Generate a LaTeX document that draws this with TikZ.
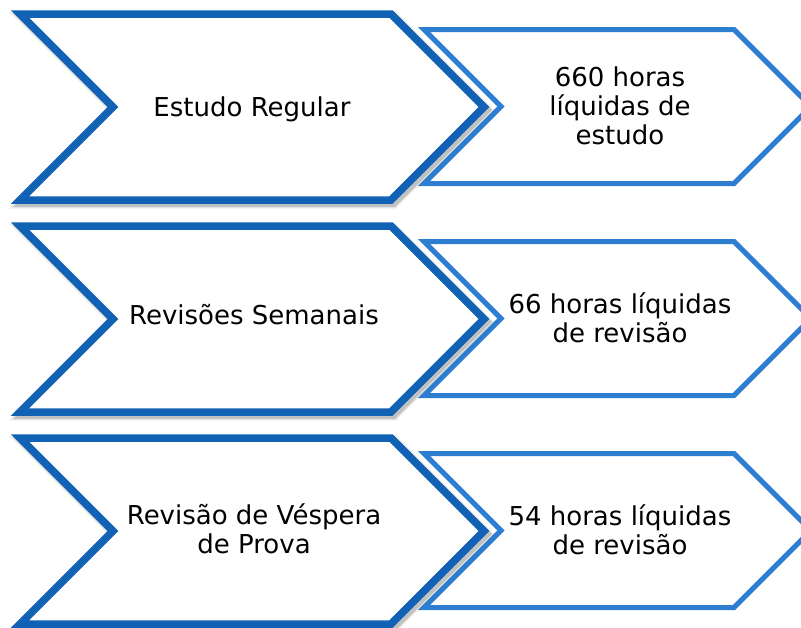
\documentclass[tikz,border=0pt]{standalone}
\usepackage{fontspec}
\setmainfont{DejaVu Sans}
\definecolor{darkb}{RGB}{17,98,181}
\definecolor{lightb}{RGB}{45,126,208}
\tikzset{
  bigchev/.style={draw=darkb, line width=7.5pt, fill=white, line join=miter},
  bigshadowA/.style={draw=black, line width=11pt, opacity=0.08, line join=miter},
  bigshadowB/.style={draw=black, line width=8pt, opacity=0.18, line join=miter},
  smallchev/.style={draw=lightb, line width=5pt, fill=white, line join=miter},
  lbl/.style={font=\fontsize{26}{29}\selectfont, align=center, inner sep=0pt, text=black},
}
\begin{document}
\begin{tikzpicture}[x=1pt,y=-1pt]
\useasboundingbox (0,0) rectangle (801,627);
\clip (0,0) rectangle (801,627);
\foreach \k in {0,1,2} {
  \begin{scope}[shift={(0,212*\k)}]
    \draw[smallchev] (424,29.5) -- (734,29.5) -- (811,106.5) -- (734,183.5) -- (424,183.5) -- (501,106.5) -- cycle;
    \begin{scope}[shift={(2.5,3)}]
      \draw[bigshadowA] (20,14) -- (391,14) -- (484,107) -- (391,200) -- (20,200) -- (113,107) -- cycle;
      \draw[bigshadowB] (20,14) -- (391,14) -- (484,107) -- (391,200) -- (20,200) -- (113,107) -- cycle;
    \end{scope}
    \draw[bigchev] (20,14) -- (391,14) -- (484,107) -- (391,200) -- (20,200) -- (113,107) -- cycle;
  \end{scope}
}
\node[lbl] (l1) at (252,109.2) {Estudo Regular};
\node[lbl] (r1) at (620,105.8) {660 horas\\líquidas de\\estudo};
\node[lbl] (l2) at (254,315) {Revisões Semanais};
\node[lbl] (r2) at (620,317.8) {66 horas líquidas\\de revisão};
\node[lbl] (l3) at (254,529.2) {Revisão de Véspera\\de Prova};
\node[lbl] (r3) at (620,529.8) {54 horas líquidas\\de revisão};
\end{tikzpicture}
\end{document}
